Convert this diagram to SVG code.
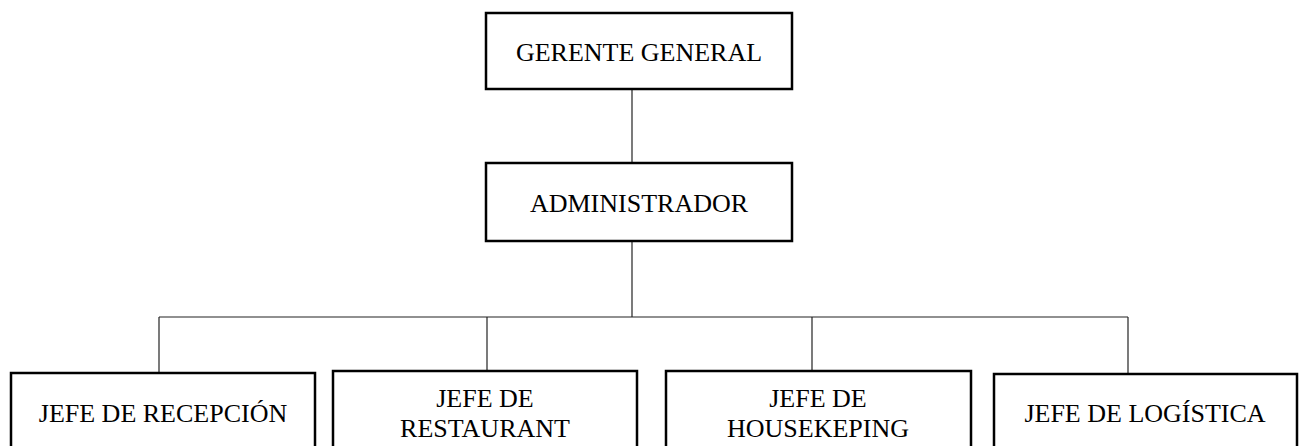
<svg xmlns="http://www.w3.org/2000/svg" width="1302" height="446" viewBox="0 0 1302 446">
<style>
.box{fill:#fff;stroke:#000;stroke-width:2.5}
.lbl{font-family:"Liberation Serif","Times New Roman",serif;font-size:26px;fill:#000;text-anchor:middle}
.conn{stroke:#222;stroke-width:1.2;fill:none}
</style>
<rect width="1302" height="446" fill="#fff"/>
<g id="connectors">
<line class="conn" x1="632" y1="89" x2="632" y2="163"/>
<line class="conn" x1="632" y1="241" x2="632" y2="317"/>
<line class="conn" x1="159" y1="317" x2="1128" y2="317"/>
<line class="conn" x1="159" y1="317" x2="159" y2="373"/>
<line class="conn" x1="487" y1="317" x2="487" y2="371"/>
<line class="conn" x1="812" y1="317" x2="812" y2="371"/>
<line class="conn" x1="1128" y1="317" x2="1128" y2="374"/>
</g>
<g id="gerente">
<rect class="box" x="486" y="13" width="306" height="76"/>
<text class="lbl" x="639" y="61">GERENTE GENERAL</text>
</g>
<g id="administrador">
<rect class="box" x="486" y="163" width="306" height="78"/>
<text class="lbl" x="639" y="212">ADMINISTRADOR</text>
</g>
<g id="recepcion">
<rect class="box" x="11" y="373" width="304" height="80"/>
<text class="lbl" x="163" y="422">JEFE DE RECEPCIÓN</text>
</g>
<g id="restaurant">
<rect class="box" x="333" y="371" width="304" height="82"/>
<text class="lbl" x="485" y="407">JEFE DE</text>
<text class="lbl" x="485" y="437">RESTAURANT</text>
</g>
<g id="housekeping">
<rect class="box" x="666" y="371" width="305" height="82"/>
<text class="lbl" x="818" y="407">JEFE DE</text>
<text class="lbl" x="818" y="437">HOUSEKEPING</text>
</g>
<g id="logistica">
<rect class="box" x="994" y="374" width="303" height="80"/>
<text class="lbl" x="1145" y="422">JEFE DE LOGÍSTICA</text>
</g>
</svg>
